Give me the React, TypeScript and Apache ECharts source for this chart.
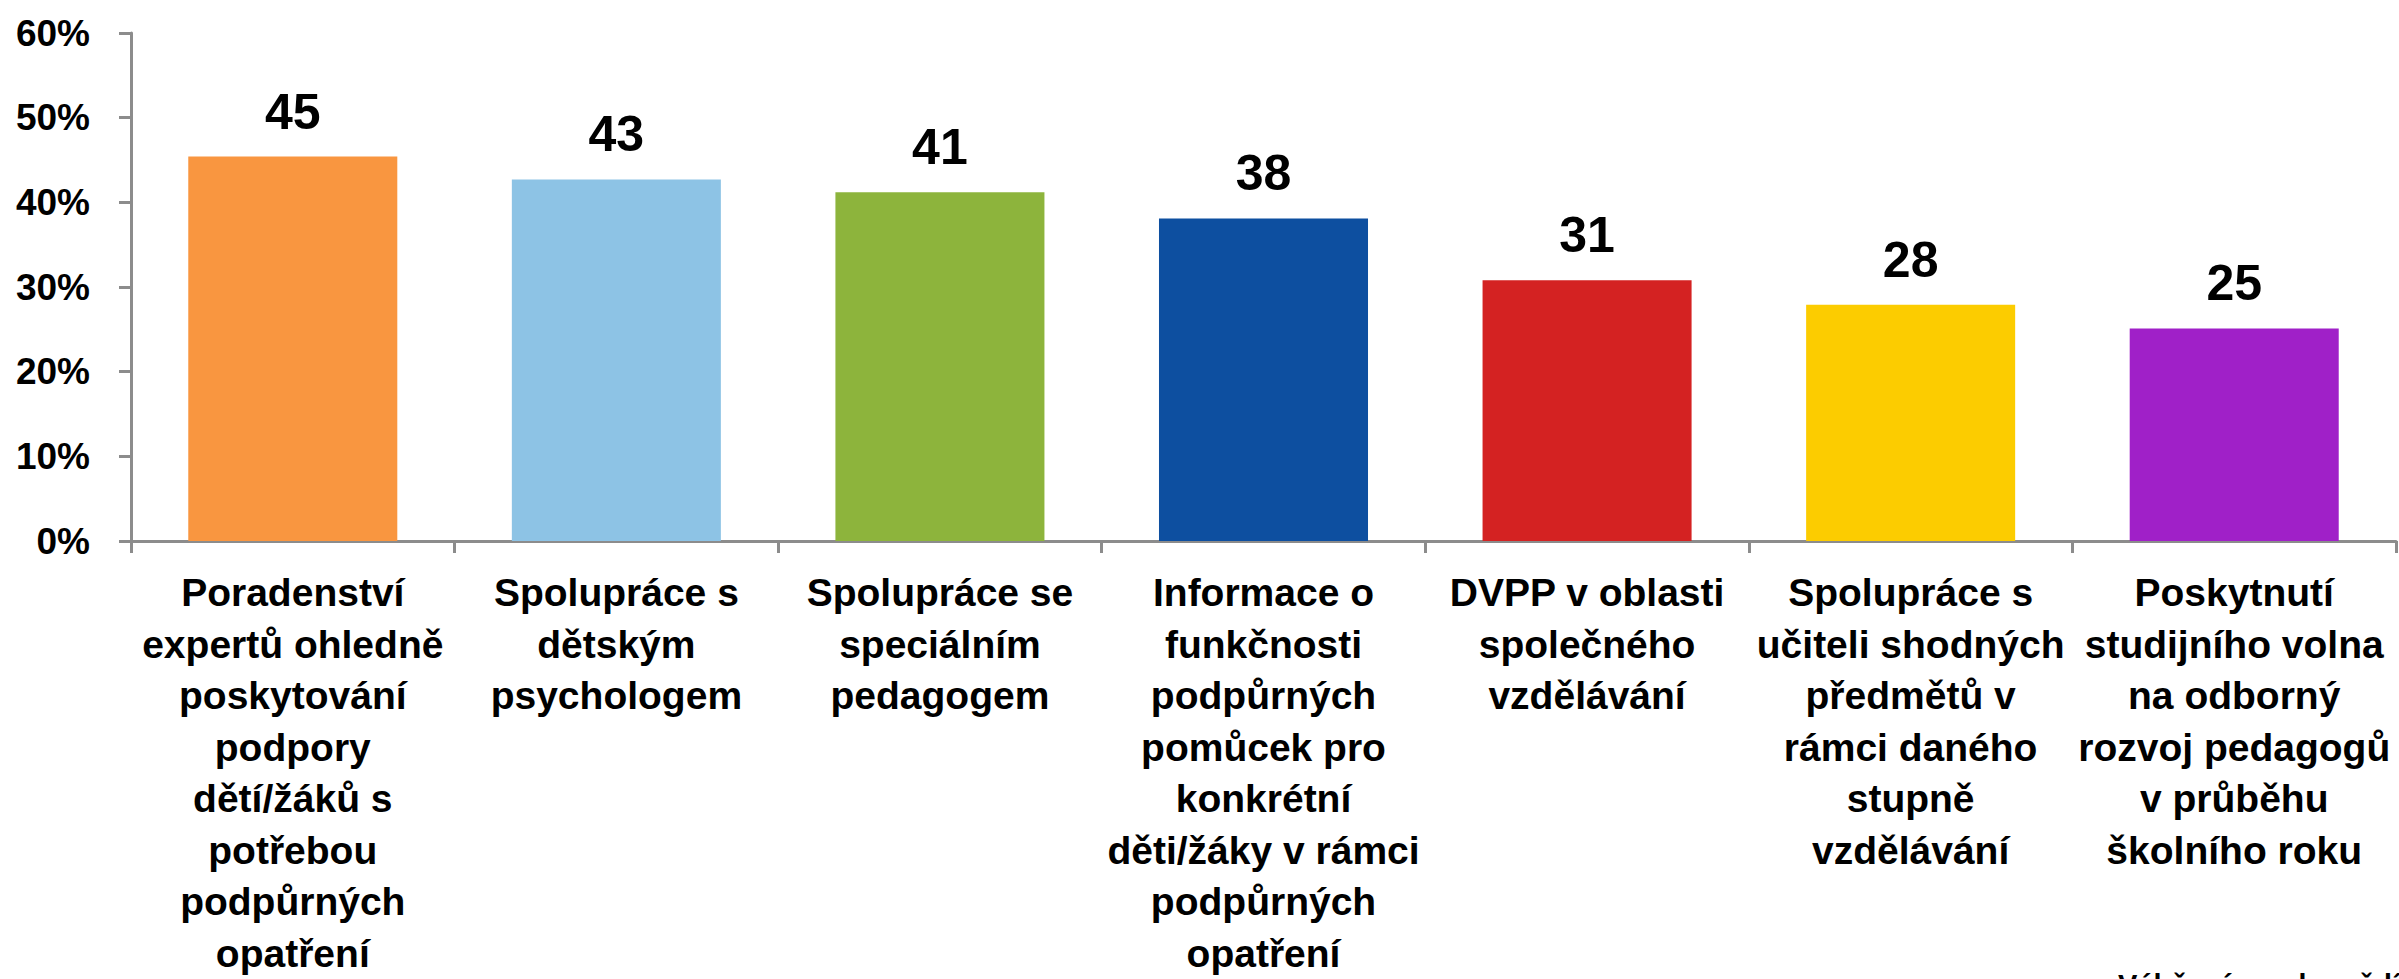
import React, { useEffect, useRef } from "react";
import * as echarts from "echarts";

const categories: string[] = [
  "Poradenství\nexpertů ohledně\nposkytování\npodpory\ndětí/žáků s\npotřebou\npodpůrných\nopatření",
  "Spolupráce s\ndětským\npsychologem",
  "Spolupráce se\nspeciálním\npedagogem",
  "Informace o\nfunkčnosti\npodpůrných\npomůcek pro\nkonkrétní\nděti/žáky v rámci\npodpůrných\nopatření",
  "DVPP v oblasti\nspolečného\nvzdělávání",
  "Spolupráce s\nučiteli shodných\npředmětů v\nrámci daného\nstupně\nvzdělávání",
  "Poskytnutí\nstudijního volna\nna odborný\nrozvoj pedagogů\nv průběhu\nškolního roku",
];

const values: number[] = [45.4, 42.7, 41.2, 38.1, 30.8, 27.9, 25.1];

const barColors: string[] = [
  "#F99640",
  "#8DC3E5",
  "#8DB43C",
  "#0D4FA0",
  "#D42222",
  "#FCCC00",
  "#A020C8",
];

const yTicks = { min: 0, max: 60, interval: 10 };
const footnote = "Výběr více odpovědí";

const FONT = "'Liberation Sans', Arial, sans-serif";

export default function App() {
  const ref = useRef<HTMLDivElement>(null);

  useEffect(() => {
    if (!ref.current) return;
    const chart = echarts.init(ref.current, undefined, { renderer: "svg" });
    chart.setOption({
      animation: false,
      backgroundColor: "#ffffff",
      textStyle: { fontFamily: FONT },
      grid: { left: 131, right: 3, top: 33, bottom: 437, containLabel: false },
      xAxis: {
        type: "category",
        data: categories,
        axisLine: { show: true, lineStyle: { color: "#8c8c8c", width: 3 } },
        axisTick: { show: true, length: 12, lineStyle: { color: "#8c8c8c", width: 3 } },
        axisLabel: {
          interval: 0,
          margin: 26,
          color: "#000000",
          fontSize: 39,
          fontWeight: "bold",
          lineHeight: 51.5,
          fontFamily: FONT,
          align: "center",
        },
      },
      yAxis: {
        type: "value",
        min: yTicks.min,
        max: yTicks.max,
        interval: yTicks.interval,
        axisLine: { show: true, lineStyle: { color: "#8c8c8c", width: 3 } },
        axisTick: { show: true, length: 12, lineStyle: { color: "#8c8c8c", width: 3 } },
        splitLine: { show: false },
        axisLabel: {
          margin: 41,
          color: "#000000",
          fontSize: 37,
          fontWeight: "bold",
          fontFamily: FONT,
          formatter: "{value}%",
        },
      },
      series: [
        {
          type: "bar",
          barWidth: "64.6%",
          data: values.map((v, i) => ({ value: v, itemStyle: { color: barColors[i] } })),
          label: {
            show: true,
            position: "top",
            distance: 20,
            color: "#000000",
            fontSize: 50,
            fontWeight: "bold",
            fontFamily: FONT,
            formatter: (p: any) => String(Math.round(p.value)),
          },
        },
      ],
      graphic: [
        {
          type: "text",
          left: 2118,
          top: 970,
          style: {
            text: footnote,
            fill: "#000000",
            fontSize: 29,
            fontWeight: "bold",
            fontFamily: FONT,
          },
        },
      ],
    });
    return () => chart.dispose();
  }, []);

  return (
    <div
      ref={ref}
      style={{ position: "absolute", left: 0, top: 0, width: 2399, height: 979, background: "#fff" }}
    />
  );
}
